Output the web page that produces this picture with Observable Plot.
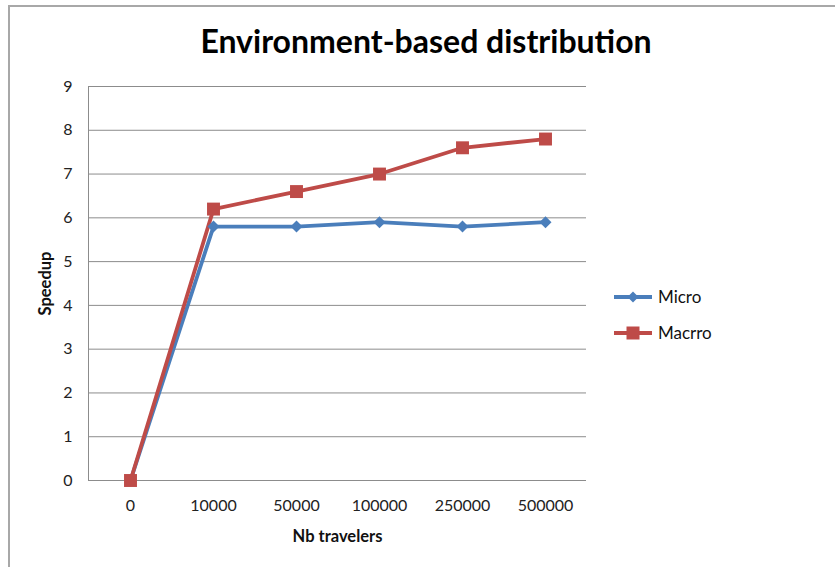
<!DOCTYPE html>
<html>
<head>
<meta charset="utf-8">
<script src="https://cdn.jsdelivr.net/npm/d3@7"></script>
<script src="https://cdn.jsdelivr.net/npm/@observablehq/plot@0.6"></script>
<style>
  body { margin: 0; background: #fff; }
  #wrap { position: relative; width: 835px; height: 567px; overflow: hidden; background: #fff; font-family: Lato, "Open Sans", sans-serif; }
  #border { position: absolute; left: 8px; top: 5px; right: -10px; bottom: -10px; border-top: 2px solid #a8a8a8; border-left: 2px solid #a8a8a8; }
  #title { position: absolute; left: 0; width: 852px; top: 21px; text-align: center; font-size: 32px; font-weight: bold; color: #000; }
  #chart { position: absolute; left: 0; top: 0; }
  .leg { position: absolute; left: 612px; display: flex; align-items: center; font-size: 17px; color: #111; }
  .leg svg { margin-right: 4px; }
</style>
</head>
<body>
<div id="wrap">
  <div id="border"></div>
  <div id="chart"></div>
  <div id="title">Environment-based distribution</div>
  <div class="leg" id="leg1" style="top:286px"></div>
  <div class="leg" id="leg2" style="top:322px"></div>
</div>
<script>
const categories = ["0", "10000", "50000", "100000", "250000", "500000"];
const microValues = [0, 5.8, 5.8, 5.9, 5.8, 5.9];
const macroValues = [0, 6.2, 6.6, 7.0, 7.6, 7.8];
const yTicks = [0, 1, 2, 3, 4, 5, 6, 7, 8, 9];
const seriesNames = ["Micro", "Macrro"];
const seriesColors = ["#4a7ebb", "#be4b48"];

const micro = categories.map((c, i) => ({cat: c, v: microValues[i]}));
const macro = categories.map((c, i) => ({cat: c, v: macroValues[i]}));

const plot = Plot.plot({
  width: 835,
  height: 567,
  marginLeft: 88,
  marginRight: 249,
  marginTop: 86,
  marginBottom: 87,
  style: {background: "transparent", fontFamily: "Lato, 'Open Sans', sans-serif", fontSize: "16px", color: "#222"},
  x: {type: "point", domain: categories, padding: 0.5},
  y: {domain: [0, 9]},
  marks: [
    Plot.gridY(yTicks, {stroke: "#8c8c8c", strokeOpacity: 1, strokeWidth: 1}),
    Plot.frame({anchor: "left", stroke: "#8c8c8c", strokeWidth: 1}),
    Plot.axisY(yTicks, {tickSize: 0, tickPadding: 16, label: null, fontSize: 16}),
    Plot.axisX({tickSize: 0, tickPadding: 19, label: null, fontSize: 16}),
    Plot.line(micro, {x: "cat", y: "v", stroke: seriesColors[0], strokeWidth: 3.8}),
    Plot.line(macro, {x: "cat", y: "v", stroke: seriesColors[1], strokeWidth: 3.8}),
    Plot.dot(micro, {x: "cat", y: "v", symbol: "diamond2", r: 5.4, fill: seriesColors[0], stroke: "none"}),
    Plot.dot(macro, {x: "cat", y: "v", symbol: "square", r: 7.3, fill: seriesColors[1], stroke: "none"}),
    Plot.text(["Speedup"], {frameAnchor: "left", dx: -43, rotate: -90, textAnchor: "middle", lineAnchor: "middle", fontWeight: "bold", fontSize: 16.5, fill: "#111"}),
    Plot.text(["Nb travelers"], {frameAnchor: "bottom", dy: 61, fontWeight: "bold", fontSize: 16.5, fill: "#111"})
  ]
});
document.getElementById("chart").appendChild(plot);

function legendSym(kind, color) {
  const ns = "http://www.w3.org/2000/svg";
  const s = document.createElementNS(ns, "svg");
  s.setAttribute("width", 42); s.setAttribute("height", 20);
  const l = document.createElementNS(ns, "line");
  l.setAttribute("x1", 2); l.setAttribute("x2", 40); l.setAttribute("y1", 10); l.setAttribute("y2", 10);
  l.setAttribute("stroke", color); l.setAttribute("stroke-width", 3.8);
  s.appendChild(l);
  const p = document.createElementNS(ns, "path");
  if (kind === "diamond") p.setAttribute("d", "M21,4.5L26.5,10L21,15.5L15.5,10Z");
  else p.setAttribute("d", "M14.5,3.5H27.5V16.5H14.5Z");
  p.setAttribute("fill", color);
  s.appendChild(p);
  return s;
}
[["leg1", "diamond", 0], ["leg2", "square", 1]].forEach(([id, kind, i]) => {
  const el = document.getElementById(id);
  el.appendChild(legendSym(kind, seriesColors[i]));
  const t = document.createElement("span");
  t.textContent = seriesNames[i];
  el.appendChild(t);
});
</script>
</body>
</html>
